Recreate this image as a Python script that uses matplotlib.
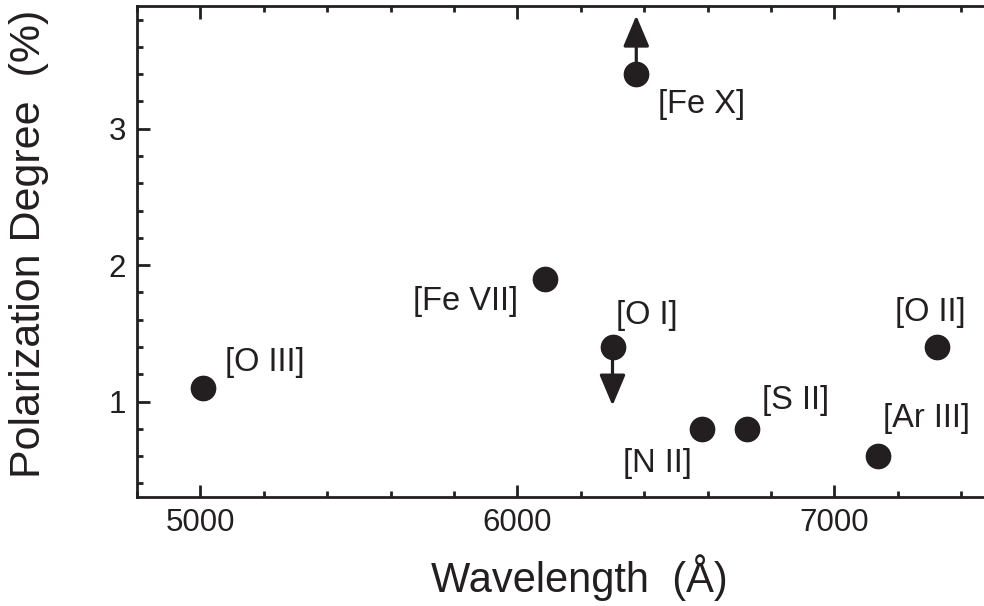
import matplotlib
matplotlib.use("Agg")
import matplotlib.pyplot as plt
from matplotlib.ticker import MultipleLocator

# -----------------------
# DATA
# -----------------------
lines = ["[O III]", "[Fe VII]", "[O I]", "[Fe X]", "[N II]", "[S II]", "[Ar III]", "[O II]"]
wavelength = [5007, 6087, 6300, 6375, 6583, 6724, 7136, 7325]
pol_degree = [1.1, 1.9, 1.4, 3.4, 0.8, 0.8, 0.6, 1.4]
# limit: +1 lower limit (arrow up), -1 upper limit (arrow down), 0 none
limit = [0, 0, -1, 1, 0, 0, 0, 0]

# label placement (offset in pixels, alignment)
label_offsets = [(22, 25), (-27, -23), (3, 31), (22, -30), (-10, -35), (15, 28), (5, 38), (-7, 34)]
label_ha = ["left", "right", "left", "left", "right", "left", "left", "center"]

INK = "#231f20"
ARROW_LEN = 0.43

plt.rcParams['font.family'] = ['Liberation Sans', 'DejaVu Sans']

fig = plt.figure(figsize=(9.84, 6.06), dpi=100)
ax = fig.add_axes([137 / 984, 1 - 497 / 606, 860 / 984, 491 / 606])

# arrows for limits, drawn under the dots
for x, y, lim in zip(wavelength, pol_degree, limit):
    if lim == 0:
        continue
    ax.annotate("", xy=(x, y + lim * ARROW_LEN), xytext=(x, y),
                arrowprops=dict(arrowstyle="-|>,head_length=19,head_width=8",
                                mutation_scale=1, lw=2.3, color=INK,
                                shrinkA=0, shrinkB=0), zorder=2)

ax.plot(wavelength, pol_degree, "o", ms=17.5, color=INK, zorder=3)

for name, x, y, off, ha in zip(lines, wavelength, pol_degree, label_offsets, label_ha):
    ax.annotate(name, xy=(x, y), xytext=off, textcoords="offset pixels",
                ha=ha, va="center", fontsize=23.5, color=INK)

ax.set_xlim(4800, 4800 + 860 / 0.317)
ax.set_ylim(0.3, 3.9)
ax.xaxis.set_major_locator(MultipleLocator(1000))
ax.xaxis.set_minor_locator(MultipleLocator(200))
ax.yaxis.set_major_locator(MultipleLocator(1))
ax.yaxis.set_minor_locator(MultipleLocator(0.2))

ax.tick_params(which="both", direction="in", top=True, right=True,
               width=2, color=INK, labelcolor=INK, labelsize=22.5)
ax.tick_params(which="major", length=9, pad=8)
ax.tick_params(which="minor", length=4.5)
for sp in ax.spines.values():
    sp.set_linewidth(2)
    sp.set_color(INK)

ax.set_xlabel("Wavelength  (Å)", fontsize=30, color=INK)
ax.set_ylabel("Polarization Degree  (%)", fontsize=31, color=INK)
ax.xaxis.set_label_coords(0.514, -0.165)
ax.yaxis.set_label_coords(-0.125, 0.515)
ax.xaxis.label.set_va("center")
ax.yaxis.label.set_va("center")

fig.savefig("out.png", dpi=100)
